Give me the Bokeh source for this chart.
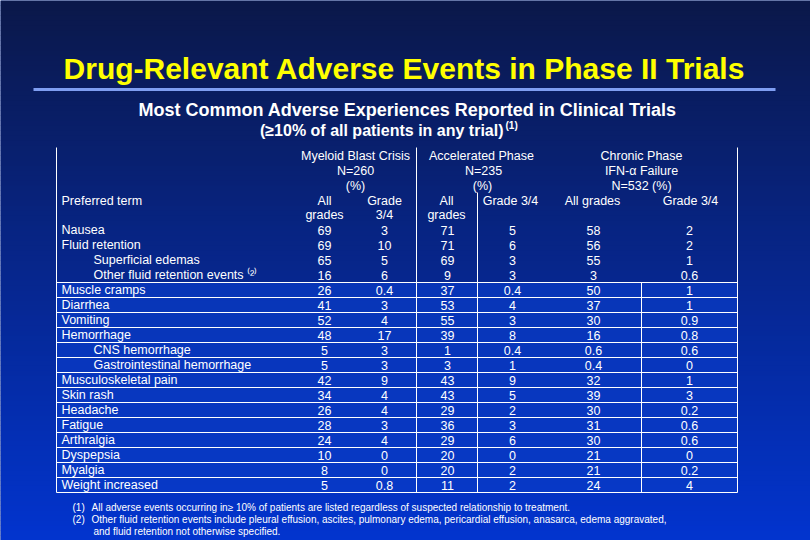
import numpy as np
from bokeh.plotting import figure
from bokeh.models import Range1d, Label
from bokeh.core.properties import value
from bokeh.embed import file_html
from bokeh.resources import INLINE

# ---------------- data ----------------
terms = ["Nausea", "Fluid retention", "Superficial edemas", "Other fluid retention events",
         "Muscle cramps", "Diarrhea", "Vomiting", "Hemorrhage", "CNS hemorrhage",
         "Gastrointestinal hemorrhage", "Musculoskeletal pain", "Skin rash", "Headache",
         "Fatigue", "Arthralgia", "Dyspepsia", "Myalgia", "Weight increased"]
indented = [False, False, True, True, False, False, False, False, True, True,
            False, False, False, False, False, False, False, False]
mbc_all = [69, 69, 65, 16, 26, 41, 52, 48, 5, 5, 42, 34, 26, 28, 24, 10, 8, 5]
mbc_g34 = [3, 10, 5, 6, 0.4, 3, 4, 17, 3, 3, 9, 4, 4, 3, 4, 0, 0, 0.8]
ap_all = [71, 71, 69, 9, 37, 53, 55, 39, 1, 3, 43, 43, 29, 36, 29, 20, 20, 11]
ap_g34 = [5, 6, 3, 3, 0.4, 4, 3, 8, 0.4, 1, 9, 5, 2, 3, 6, 0, 2, 2]
cp_all = [58, 56, 55, 3, 50, 37, 30, 16, 0.6, 0.4, 32, 39, 30, 31, 30, 21, 21, 24]
cp_g34 = [2, 2, 1, 0.6, 1, 1, 0.9, 0.8, 0.6, 0, 1, 3, 0.2, 0.6, 0.6, 0, 0.2, 4]

title = "Drug-Relevant Adverse Events in Phase II Trials"
subtitle1 = "Most Common Adverse Experiences Reported in Clinical Trials"
subtitle2 = "(\u226510% of all patients in any trial)"
footnote_marks = ["(1)", "(2)"]
footnotes = ["All adverse events occurring in\u2265 10% of patients are listed regardless of suspected relationship to treatment.",
             "Other fluid retention events include pleural effusion, ascites, pulmonary edema, pericardial effusion, anasarca, edema aggravated,",
             "and fluid retention not otherwise specified."]

# ---------------- figure ----------------
W, H = 810, 540
p = figure(width=W, height=H, output_backend="svg", toolbar_location=None,
           x_range=Range1d(0, W), y_range=Range1d(H, 0), min_border=0)
p.axis.visible = False
p.grid.visible = False
p.outline_line_color = None
p.background_fill_color = "#0a2a90"
p.border_fill_color = "#0a2a90"

# background gradient as thin horizontal bands
nb = 108
band_h = H / nb
top_c = np.array([11, 24, 74])
bot_c = np.array([2, 52, 206])
band_cols = []
for k in range(nb):
    f = k / (nb - 1)
    c = top_c * (1 - f) + bot_c * f
    band_cols.append("#%02x%02x%02x" % tuple(int(round(v)) for v in c))
p.quad(left=[0] * nb, right=[W] * nb, top=[k * band_h for k in range(nb)],
       bottom=[(k + 1) * band_h + 0.5 for k in range(nb)], fill_color=band_cols, line_color=None)

FONT = value("Liberation Sans")

# title
p.add_layout(Label(x=404, y=68, text=title, text_align="center", text_baseline="middle",
                   text_color="#ffff00", text_font="Liberation Sans", text_font_style="bold",
                   text_font_size="30px"))
p.segment(x0=[33], y0=[89], x1=[775], y1=[89], line_color="#7f9ef2", line_width=3)

p.add_layout(Label(x=407, y=109, text=subtitle1, text_align="center", text_baseline="middle",
                   text_color="white", text_font="Liberation Sans", text_font_style="bold",
                   text_font_size="18px"))
p.add_layout(Label(x=503, y=130, text=subtitle2, text_align="right", text_baseline="middle",
                   text_color="white", text_font="Liberation Sans", text_font_style="bold",
                   text_font_size="16px"))
p.add_layout(Label(x=505, y=125, text="(1)", text_align="left", text_baseline="middle",
                   text_color="white", text_font="Liberation Sans", text_font_style="bold",
                   text_font_size="10px"))

# table geometry
row0 = 229.5
rh = 15
nrows = len(terms)
ys = [row0 + rh * i for i in range(nrows)]
grid_top = row0 + rh * 4 - rh / 2
bottom = row0 + rh * (nrows - 1) + rh / 2
left, right = 56, 737

# row fills of lower table
p.quad(left=[left] * 14, right=[right] * 14,
       top=[grid_top + rh * k for k in range(14)],
       bottom=[grid_top + rh * (k + 1) for k in range(14)],
       fill_color="#0a3cc8", fill_alpha=0.7, line_color=None)

# horizontal grid lines
hy = [grid_top + rh * k for k in range(15)]
p.segment(x0=[left] * 15, y0=hy, x1=[right] * 15, y1=hy, line_color="white", line_width=1)
# vertical lines
p.segment(x0=[left, right, 416, 477, 641], y0=[147, 147, 147, 192, grid_top],
          x1=[left, right, 416, 477, 641], y1=[bottom] * 5, line_color="white", line_width=1)

fs = "12.5px"

def txt(x, y, t, align="center", size=fs):
    p.text(x=x, y=y, text=t, text_align=align, text_baseline="middle",
           text_color="white", text_font=FONT, text_font_size=size)

# headers
txt([355, 355, 355], [155, 170, 185], ["Myeloid Blast Crisis", "N=260", "(%)"])
txt([481, 483, 482], [155, 170, 185], ["Accelerated Phase", "N=235", "(%)"])
txt([641, 641, 641], [155, 170, 185], ["Chronic Phase", "IFN-\u03b1 Failure", "N=532 (%)"])
txt([61], [200], ["Preferred term"], align="left")
txt([324, 324, 384, 384], [200, 214, 200, 214], ["All", "grades", "Grade", "3/4"])
txt([446, 446, 510], [200, 214, 200], ["All", "grades", "Grade 3/4"])
txt([592, 690], [200, 200], ["All grades", "Grade 3/4"])

# term labels
labels = [t + (" \u207d\u00b2\u207e" if t == "Other fluid retention events" else "") for t in terms]
txt([93 if ind else 61 for ind in indented], ys, labels, align="left")

def fmt(vals):
    return [f"{v:g}" for v in vals]

for xc, vals in [(324, mbc_all), (384, mbc_g34), (447, ap_all), (512, ap_g34),
                 (593, cp_all), (689, cp_g34)]:
    txt([xc] * nrows, ys, fmt(vals))

# footnotes
txt([72, 72], [507, 519], footnote_marks, align="left", size="10px")
txt([91, 91, 93], [507, 519, 531], footnotes, align="left", size="10px")

open("out.html", "w").write(file_html(p, INLINE))
